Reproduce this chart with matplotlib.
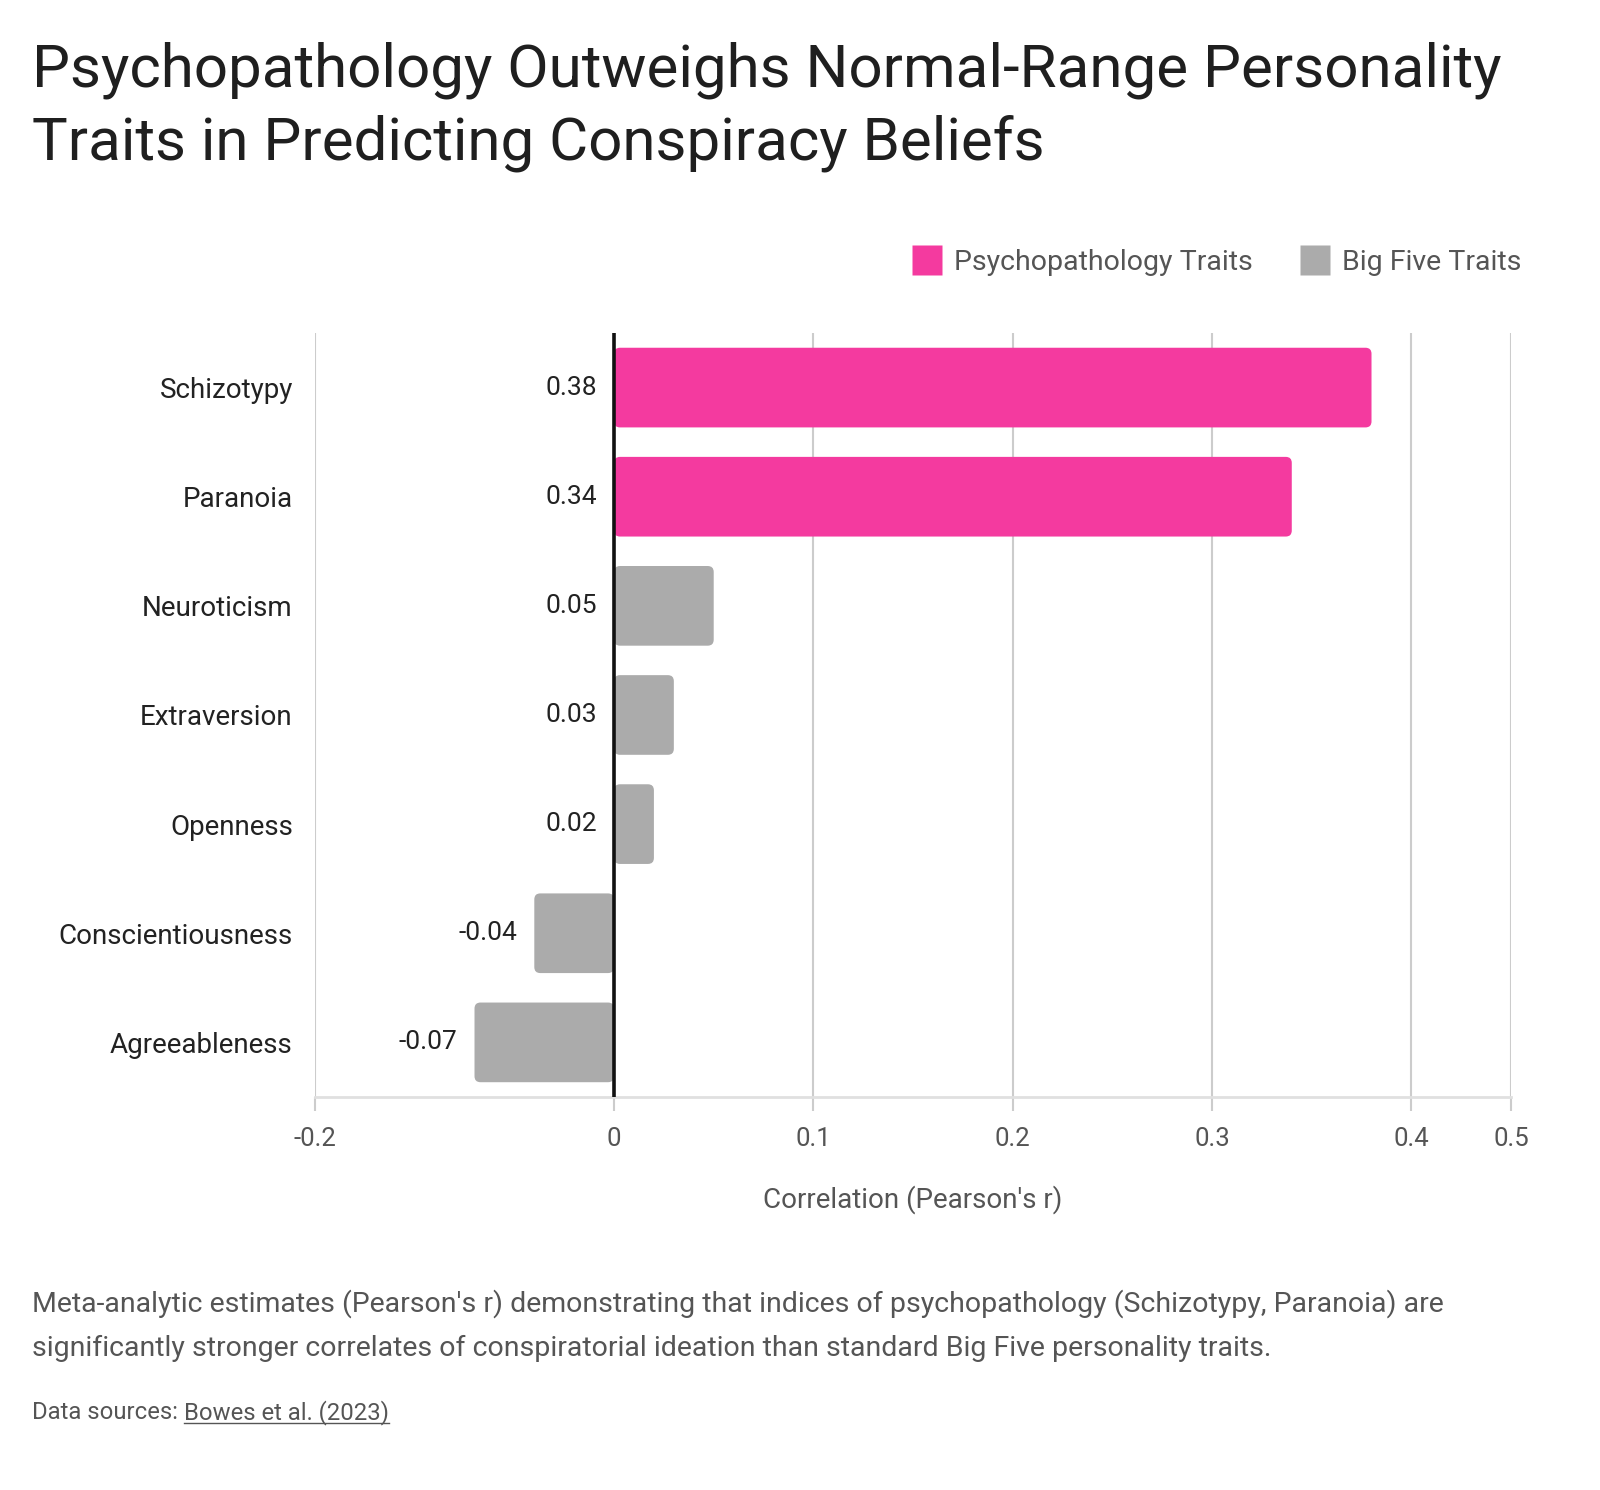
import matplotlib.pyplot as plt
from matplotlib.patches import FancyBboxPatch
from matplotlib.lines import Line2D

plt.rcParams['font.family'] = ['Roboto', 'DejaVu Sans']

traits = ["Schizotypy", "Paranoia", "Neuroticism", "Extraversion",
          "Openness", "Conscientiousness", "Agreeableness"]
values = [0.38, 0.34, 0.05, 0.03, 0.02, -0.04, -0.07]
groups = ["psy", "psy", "big5", "big5", "big5", "big5", "big5"]
tick_pos = [-0.15, 0, 0.1, 0.2, 0.3, 0.4, 0.45]
tick_labels = ["-0.2", "0", "0.1", "0.2", "0.3", "0.4", "0.5"]

colors = {"psy": "#F43A9F", "big5": "#ABABAB"}
names = {"psy": "Psychopathology Traits", "big5": "Big Five Traits"}

fig = plt.figure(figsize=(16, 14.9), dpi=100)
ax = fig.add_axes([0.1969, 0.2638, 0.7475, 0.5127])

ypos = list(range(len(traits)))
bars = ax.barh(ypos, values, height=0.73, color=[colors[g] for g in groups])

# rounded corners: swap each bar for a fancy box of the same extent
x_per_px = 0.6 / 1196
y_per_px = 7 / 764
for b in bars:
    x0, y0, w, h = b.get_x(), b.get_y(), b.get_width(), b.get_height()
    if w < 0:
        x0, w = x0 + w, -w
    r = 6 * x_per_px
    p = FancyBboxPatch((x0, y0), w, h,
                       boxstyle=f"round,pad=0,rounding_size={r}",
                       mutation_aspect=y_per_px / x_per_px,
                       facecolor=b.get_facecolor(), edgecolor="none", zorder=2)
    ax.add_patch(p)
    b.remove()

for y, v in zip(ypos, values):
    ax.text(min(v, 0) - 0.0085, y, f"{v:.2f}", ha="right", va="center",
            fontsize=19, color="#222222")

ax.set_xlim(-0.15, 0.45)
ax.set_ylim(len(traits) - 0.5, -0.5)
ax.set_yticks(ypos)
ax.set_yticklabels(traits, fontsize=20, color="#222222")
ax.set_xticks(tick_pos)
ax.set_xticklabels(tick_labels, fontsize=18.5, color="#555555")
ax.tick_params(axis="y", length=0, pad=16)
ax.tick_params(axis="x", length=10, width=1.5, color="#CCCCCC", pad=12)
ax.grid(axis="x", color="#CCCCCC", linewidth=1.5, zorder=0)
ax.set_axisbelow(True)
for s in ["top", "right", "left"]:
    ax.spines[s].set_visible(False)
ax.spines["bottom"].set_color("#E0E0E0")
ax.spines["bottom"].set_linewidth(2)
ax.axvline(0, color="#111111", linewidth=2.6, zorder=3)
ax.set_xlabel("Correlation (Pearson's r)", fontsize=20, color="#555555", labelpad=24)

handles = [Line2D([], [], marker="s", linestyle="none", markersize=22,
                  markerfacecolor=colors[k], markeredgecolor="none")
           for k in ["psy", "big5"]]
fig.legend(handles, [names["psy"], names["big5"]], loc="center right",
           bbox_to_anchor=(0.958, 0.824), ncol=2, frameon=False,
           fontsize=20.5, labelcolor="#555555", handletextpad=0.35,
           columnspacing=1.6, handlelength=1.2, borderaxespad=0)

fig.text(0.02, 0.972, "Psychopathology Outweighs Normal-Range Personality\nTraits in Predicting Conspiracy Beliefs",
         fontsize=43.2, color="#1F1F1F", va="top", ha="left", linespacing=1.33)
fig.text(0.02, 0.1105, "Meta-analytic estimates (Pearson's r) demonstrating that indices of psychopathology (Schizotypy, Paranoia) are\nsignificantly stronger correlates of conspiratorial ideation than standard Big Five personality traits.",
         fontsize=20.5, color="#555555", va="center", ha="left", linespacing=1.8)
src = fig.text(0.02, 0.052, "Data sources: ", fontsize=17.2, color="#555555", va="center", ha="left")
fig.canvas.draw()
bb = src.get_window_extent().transformed(fig.transFigure.inverted())
link = fig.text(bb.x1, 0.052, "Bowes et al. (2023)", fontsize=17.2, color="#555555",
                va="center", ha="left")
link_bb = link.get_window_extent(renderer=fig.canvas.get_renderer()).transformed(fig.transFigure.inverted())
fig.add_artist(Line2D([link_bb.x0, link_bb.x1], [link_bb.y0 + 0.001, link_bb.y0 + 0.001],
                      transform=fig.transFigure, color="#555555", linewidth=1))

fig.savefig("out.png", dpi=100, facecolor="white")
